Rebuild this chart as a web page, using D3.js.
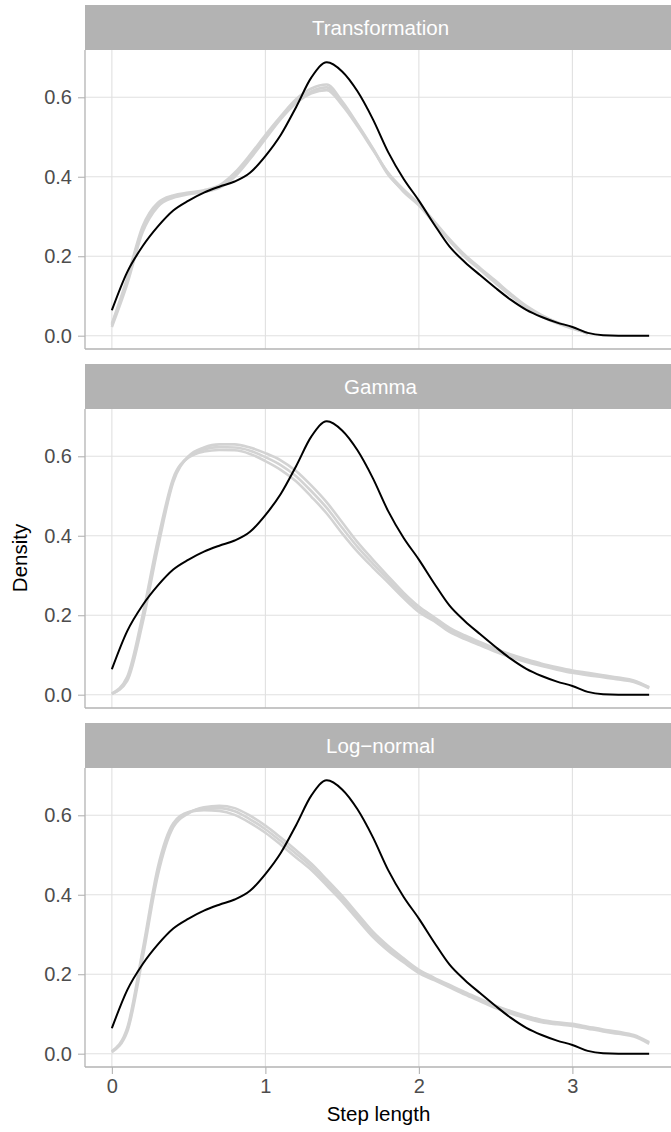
<!DOCTYPE html>
<html lang="en">
<head>
<meta charset="UTF-8">
<title>Step length densities</title>
<script src="https://d3js.org/d3.v7.min.js"></script>
<style>
  body { margin: 0; background: white; }
  svg { display: block; font-family: "Liberation Sans", Arial, sans-serif; }
  .tick text { fill: #4d4d4d; }
</style>
</head>
<body>
<div id="chart"></div>
<script>
// facet names
var panels = ["Transformation", "Gamma", "Log\u2212normal"];

// step length grid (x) shared by the density curves
var steps = [0, 0.1, 0.2, 0.3, 0.4, 0.5, 0.6, 0.7, 0.8, 0.9, 1.0, 1.1, 1.2, 1.3, 1.4, 1.5, 1.6, 1.7,
  1.8, 1.9, 2.0, 2.1, 2.2, 2.3, 2.4, 2.5, 2.6, 2.7, 2.8, 2.9, 3.0, 3.1, 3.2, 3.3, 3.4, 3.5];

// observed density (black, same in every panel)
var observed = [0.064, 0.16, 0.225, 0.275, 0.315, 0.34, 0.36, 0.375, 0.388, 0.41, 0.452, 0.505, 0.575,
  0.65, 0.688, 0.665, 0.615, 0.545, 0.462, 0.395, 0.34, 0.28, 0.224, 0.185, 0.152, 0.12, 0.09, 0.065,
  0.047, 0.033, 0.022, 0.007, 0.001, 0, 0, 0];

// simulated densities (grey), a few replicates per panel
var simTransformation = [
  [0.027, 0.14, 0.27, 0.33, 0.35, 0.358, 0.363, 0.375, 0.405, 0.45, 0.50, 0.548, 0.59, 0.615, 0.625, 0.585,
   0.53, 0.47, 0.405, 0.365, 0.33, 0.285, 0.24, 0.2, 0.168, 0.135, 0.103, 0.073, 0.05, 0.033, 0.02, 0.006],
  [0.022, 0.13, 0.26, 0.325, 0.347, 0.356, 0.362, 0.372, 0.40, 0.445, 0.495, 0.545, 0.585, 0.61, 0.618, 0.58,
   0.527, 0.468, 0.41, 0.368, 0.332, 0.288, 0.243, 0.203, 0.17, 0.138, 0.105, 0.075, 0.052, 0.034, 0.019, 0.005],
  [0.03, 0.145, 0.275, 0.335, 0.353, 0.36, 0.366, 0.378, 0.41, 0.455, 0.505, 0.552, 0.595, 0.622, 0.632, 0.59,
   0.533, 0.472, 0.408, 0.362, 0.328, 0.283, 0.238, 0.198, 0.165, 0.132, 0.1, 0.071, 0.048, 0.031, 0.018, 0.006]
];
var simGamma = [
  [0.002, 0.04, 0.19, 0.38, 0.54, 0.60, 0.617, 0.623, 0.622, 0.614, 0.598, 0.578, 0.55, 0.512, 0.47, 0.42,
   0.372, 0.33, 0.29, 0.25, 0.215, 0.19, 0.163, 0.145, 0.128, 0.112, 0.098, 0.086, 0.075, 0.066, 0.058,
   0.052, 0.047, 0.041, 0.034, 0.018],
  [0.002, 0.035, 0.18, 0.37, 0.535, 0.6, 0.622, 0.63, 0.63, 0.622, 0.608, 0.59, 0.563, 0.526, 0.484, 0.434,
   0.384, 0.34, 0.298, 0.257, 0.222, 0.195, 0.168, 0.149, 0.132, 0.116, 0.101, 0.089, 0.078, 0.069, 0.061,
   0.055, 0.049, 0.043, 0.036, 0.019],
  [0.003, 0.045, 0.2, 0.39, 0.545, 0.597, 0.612, 0.616, 0.615, 0.606, 0.588, 0.566, 0.537, 0.498, 0.456, 0.406,
   0.36, 0.32, 0.282, 0.243, 0.208, 0.185, 0.158, 0.14, 0.124, 0.108, 0.094, 0.082, 0.072, 0.063, 0.055,
   0.049, 0.044, 0.038, 0.032, 0.016]
];
var simLognormal = [
  [0.005, 0.06, 0.25, 0.46, 0.575, 0.607, 0.617, 0.618, 0.61, 0.59, 0.565, 0.535, 0.503, 0.47, 0.43, 0.39,
   0.345, 0.30, 0.265, 0.235, 0.207, 0.188, 0.17, 0.152, 0.135, 0.118, 0.104, 0.092, 0.082, 0.077, 0.073,
   0.066, 0.059, 0.053, 0.045, 0.027],
  [0.004, 0.055, 0.24, 0.45, 0.57, 0.605, 0.62, 0.624, 0.618, 0.599, 0.574, 0.544, 0.512, 0.478, 0.438, 0.397,
   0.352, 0.307, 0.271, 0.24, 0.211, 0.191, 0.173, 0.155, 0.138, 0.121, 0.107, 0.095, 0.085, 0.079, 0.075,
   0.068, 0.061, 0.055, 0.047, 0.029],
  [0.006, 0.065, 0.26, 0.47, 0.58, 0.608, 0.613, 0.611, 0.601, 0.581, 0.556, 0.526, 0.494, 0.462, 0.423, 0.383,
   0.338, 0.294, 0.259, 0.23, 0.203, 0.185, 0.167, 0.149, 0.132, 0.115, 0.101, 0.089, 0.079, 0.074, 0.07,
   0.063, 0.056, 0.05, 0.043, 0.025]
];
var simulated = [simTransformation, simGamma, simLognormal];

// tick values
var xTicks = [0, 1, 2, 3];
var yTicks = [0, 0.2, 0.4, 0.6];

var W = 671, H = 1132;
var left = 85, right = 676;
var stripH = 45, panelH = 299, gap = 359, firstTop = 5;

var svg = d3.select("#chart").append("svg")
  .attr("width", W)
  .attr("height", H);

var x = d3.scaleLinear().domain([-0.175, 3.675]).range([left, right]);

var line = d3.line()
  .x(function(d) { return x(d[0]); })
  .curve(d3.curveMonotoneX);

panels.forEach(function(name, i) {
  var stripTop = firstTop + i * gap;
  var top = stripTop + stripH;
  var bottom = top + panelH;
  var y = d3.scaleLinear().domain([-0.0335, 0.719]).range([bottom, top]);
  line.y(function(d) { return y(d[1]); });

  var g = svg.append("g");

  // grid
  g.selectAll(".gx").data(xTicks).enter().append("line")
    .attr("x1", function(d) { return x(d); }).attr("x2", function(d) { return x(d); })
    .attr("y1", top).attr("y2", bottom)
    .style("stroke", "#e0e0e0").style("stroke-width", 1.1);
  g.selectAll(".gy").data(yTicks).enter().append("line")
    .attr("x1", left).attr("x2", right)
    .attr("y1", function(d) { return y(d); }).attr("y2", function(d) { return y(d); })
    .style("stroke", "#e0e0e0").style("stroke-width", 1.1);

  // strip
  g.append("rect")
    .attr("x", left).attr("y", stripTop)
    .attr("width", right - left).attr("height", stripH)
    .style("fill", "#b3b3b3");
  g.append("text")
    .attr("x", (left + right) / 2)
    .attr("y", stripTop + stripH / 2)
    .attr("dy", "0.36em")
    .attr("text-anchor", "middle")
    .style("fill", "white")
    .style("font-size", "20.5px")
    .text(name);

  // simulated curves
  simulated[i].forEach(function(rep) {
    g.append("path")
      .datum(rep.map(function(v, k) { return [steps[k], v]; }))
      .attr("d", line)
      .style("fill", "none")
      .style("stroke", "#d3d3d3")
      .style("stroke-width", 2.6);
  });

  // observed curve
  g.append("path")
    .datum(observed.map(function(v, k) { return [steps[k], v]; }))
    .attr("d", line)
    .style("fill", "none")
    .style("stroke", "black")
    .style("stroke-width", 2);

  // y axis
  var ya = g.append("g")
    .attr("transform", "translate(" + left + ",0)")
    .call(d3.axisLeft(y).tickValues(yTicks).tickFormat(d3.format(".1f"))
      .tickSize(7).tickSizeOuter(0).tickPadding(6));
  ya.select(".domain").attr("d", "M0," + top + "V" + bottom);
  ya.selectAll("line").style("stroke", "#b3b3b3").style("stroke-width", 1.1);
  ya.selectAll("path").style("stroke", "#b3b3b3").style("stroke-width", 1.3);
  ya.selectAll("text").style("font-size", "20px").style("font-family", "Liberation Sans, Arial, sans-serif");

  // bottom axis line
  if (i < panels.length - 1) {
    g.append("line")
      .attr("x1", left).attr("x2", right)
      .attr("y1", bottom).attr("y2", bottom)
      .style("stroke", "#b3b3b3").style("stroke-width", 1.3);
  } else {
    var xa = g.append("g")
      .attr("transform", "translate(0," + bottom + ")")
      .call(d3.axisBottom(x).tickValues(xTicks).tickFormat(d3.format("d"))
        .tickSize(7).tickSizeOuter(0).tickPadding(5));
    xa.select(".domain").attr("d", "M" + left + ",0H" + right);
    xa.selectAll("line").style("stroke", "#b3b3b3").style("stroke-width", 1.1);
    xa.selectAll("path").style("stroke", "#b3b3b3").style("stroke-width", 1.3);
    xa.selectAll("text").style("font-size", "20px").style("font-family", "Liberation Sans, Arial, sans-serif");
  }
});

// axis titles
svg.append("text")
  .attr("x", (left + right) / 2 - 2)
  .attr("y", 1121)
  .attr("text-anchor", "middle")
  .style("font-size", "20.5px")
  .style("fill", "black")
  .text("Step length");

svg.append("text")
  .attr("transform", "translate(27,558) rotate(-90)")
  .attr("text-anchor", "middle")
  .style("font-size", "20.5px")
  .style("fill", "black")
  .text("Density");
</script>
</body>
</html>
